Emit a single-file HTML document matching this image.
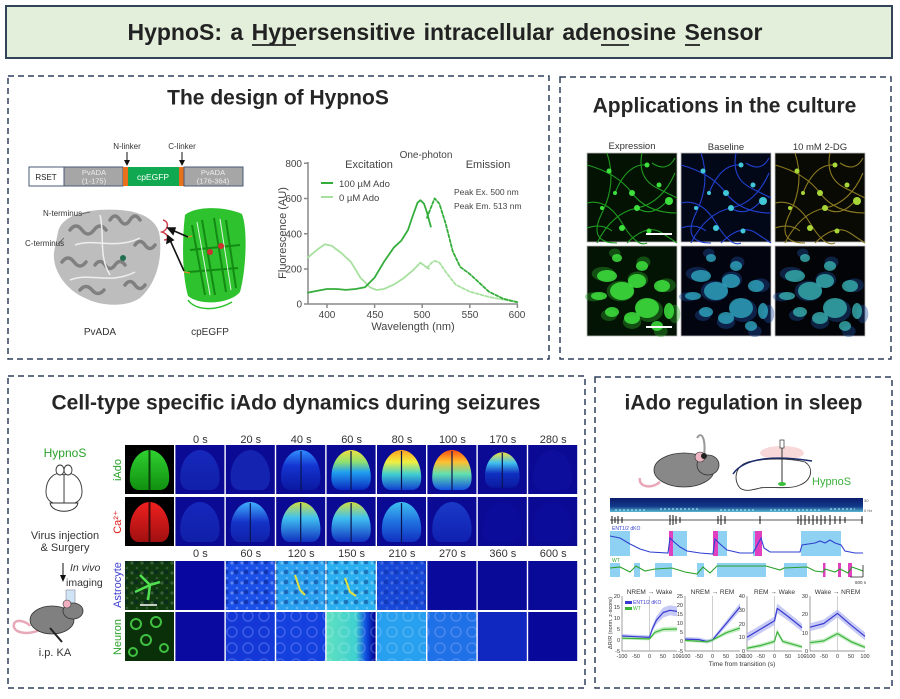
<!DOCTYPE html>
<html><head><meta charset="utf-8"><style>
html,body{margin:0;padding:0;background:#fff;}
svg{display:block;font-family:"Liberation Sans",Arial,sans-serif;}
</style></head><body>
<svg width="900" height="699" viewBox="0 0 900 699" xmlns="http://www.w3.org/2000/svg">
<defs>
<linearGradient id="b0" x1="0" y1="0" x2="0" y2="1"><stop offset="0" stop-color="#1628bc"/><stop offset="1" stop-color="#1020a8"/></linearGradient>
<linearGradient id="b40" x1="0" y1="0" x2="0" y2="1"><stop offset="0" stop-color="#3090ff"/><stop offset="0.4" stop-color="#1434d0"/><stop offset="1" stop-color="#0a18a0"/></linearGradient>
<linearGradient id="b60" x1="0" y1="0" x2="0" y2="1"><stop offset="0" stop-color="#f0e040"/><stop offset="0.3" stop-color="#90e070"/><stop offset="0.55" stop-color="#20a0f0"/><stop offset="1" stop-color="#0a28c0"/></linearGradient>
<linearGradient id="b80" x1="0" y1="0" x2="0" y2="1"><stop offset="0" stop-color="#ffa020"/><stop offset="0.3" stop-color="#f0f040"/><stop offset="0.6" stop-color="#40d0d0"/><stop offset="1" stop-color="#1040d0"/></linearGradient>
<linearGradient id="b100" x1="0" y1="0" x2="0" y2="1"><stop offset="0" stop-color="#ff5010"/><stop offset="0.3" stop-color="#ffc030"/><stop offset="0.6" stop-color="#60e0b0"/><stop offset="1" stop-color="#1450e0"/></linearGradient>
<linearGradient id="b170" x1="0" y1="0" x2="0" y2="1"><stop offset="0" stop-color="#f0e040"/><stop offset="0.3" stop-color="#40c0f0"/><stop offset="0.6" stop-color="#1030c0"/><stop offset="1" stop-color="#0a1aa0"/></linearGradient>
<linearGradient id="c20" x1="0" y1="0" x2="0" y2="1"><stop offset="0" stop-color="#40b0ff"/><stop offset="0.5" stop-color="#1434c8"/><stop offset="1" stop-color="#1020a8"/></linearGradient>
<linearGradient id="c40" x1="0" y1="0" x2="0" y2="1"><stop offset="0" stop-color="#d0e040"/><stop offset="0.4" stop-color="#40c0f0"/><stop offset="1" stop-color="#1030c0"/></linearGradient>
<linearGradient id="c80" x1="0" y1="0" x2="0" y2="1"><stop offset="0" stop-color="#40c0f0"/><stop offset="0.5" stop-color="#2070e0"/><stop offset="1" stop-color="#1030c0"/></linearGradient>
<linearGradient id="c100" x1="0" y1="0" x2="0" y2="1"><stop offset="0" stop-color="#1a3ac8"/><stop offset="1" stop-color="#1020b0"/></linearGradient>
<linearGradient id="gG" x1="0" y1="0" x2="0" y2="1"><stop offset="0" stop-color="#30d030"/><stop offset="1" stop-color="#109010"/></linearGradient>
<linearGradient id="gR" x1="0" y1="0" x2="0" y2="1"><stop offset="0" stop-color="#f02020"/><stop offset="1" stop-color="#a01010"/></linearGradient>
<linearGradient id="n150" x1="0" y1="0" x2="1" y2="0"><stop offset="0" stop-color="#60e0c0"/><stop offset="0.6" stop-color="#40d0d0"/><stop offset="0.8" stop-color="#1050e0"/><stop offset="1" stop-color="#000090"/></linearGradient>
<linearGradient id="spec" x1="0" y1="0" x2="0" y2="1"><stop offset="0" stop-color="#0c1c6c"/><stop offset="0.6" stop-color="#123a8a"/><stop offset="1" stop-color="#5ab8d0"/></linearGradient>
<pattern id="sp" width="10" height="10" patternUnits="userSpaceOnUse"><circle cx="2" cy="3" r="1.6" fill="#fff" fill-opacity="0.3"/><circle cx="7" cy="8" r="1.3" fill="#fff" fill-opacity="0.25"/><circle cx="6" cy="2" r="2.3" fill="#000050" fill-opacity="0.35"/></pattern>
<pattern id="ring" width="16" height="16" patternUnits="userSpaceOnUse"><circle cx="8" cy="8" r="5" fill="none" stroke="#fff" stroke-opacity="0.18" stroke-width="1.5"/></pattern>
<path id="brain" d="M24.5,5 C34,5 43,15 44,29 C45,39 42,44 36,45 L13,45 C7,44 4,39 5,29 C6,15 15,5 24.5,5 Z"/>
<g id="netL" fill="none" stroke="currentColor" stroke-width="1.1">
<path d="M0,12 Q30,20 45,40 T90,60"/><path d="M10,90 Q25,60 50,55 T88,20"/><path d="M20,0 Q30,30 15,60 T30,90"/><path d="M55,0 Q50,25 70,35 T90,45"/><path d="M0,50 Q20,45 35,70 T60,90"/><path d="M40,90 Q60,70 75,80 T90,90"/><path d="M65,10 Q80,20 88,5"/><path d="M0,75 Q15,70 25,78"/><path d="M28,40 Q40,10 60,12"/><path d="M50,55 Q65,65 80,48"/>
</g>
<g id="netC" fill="currentColor">
<circle cx="22" cy="18" r="2.5"/><circle cx="45" cy="40" r="3"/><circle cx="72" cy="32" r="2.5"/><circle cx="15" cy="55" r="2"/><circle cx="50" cy="55" r="3"/><circle cx="82" cy="48" r="4"/><circle cx="35" cy="75" r="3"/><circle cx="62" cy="78" r="2.5"/><circle cx="28" cy="40" r="2"/><circle cx="60" cy="12" r="2.5"/>
</g>
<g id="ast">
<ellipse cx="20" cy="30" rx="10" ry="6"/><ellipse cx="35" cy="45" rx="12" ry="9"/><ellipse cx="50" cy="35" rx="9" ry="7"/><ellipse cx="60" cy="62" rx="12" ry="10"/><ellipse cx="45" cy="72" rx="8" ry="6"/><ellipse cx="25" cy="66" rx="7" ry="5"/><ellipse cx="75" cy="40" rx="8" ry="6"/><ellipse cx="70" cy="80" rx="6" ry="5"/><ellipse cx="12" cy="50" rx="8" ry="4"/><ellipse cx="55" cy="20" rx="6" ry="5"/><ellipse cx="82" cy="65" rx="5" ry="8"/><ellipse cx="30" cy="12" rx="5" ry="4"/>
</g>
</defs>

<!-- Title -->
<rect x="6" y="6" width="886" height="52" fill="#e3efda" stroke="#33435a" stroke-width="2"/>
<text x="445" y="40" text-anchor="middle" font-size="23" font-weight="bold" fill="#222" word-spacing="2">HypnoS: a Hypersensitive intracellular adenosine Sensor</text>
<line x1="252" y1="45" x2="296" y2="45" stroke="#222" stroke-width="1.8"/>
<line x1="601" y1="45" x2="629" y2="45" stroke="#222" stroke-width="1.8"/>
<line x1="685" y1="45" x2="700" y2="45" stroke="#222" stroke-width="1.8"/>

<!-- Panels -->
<g fill="none" stroke="#2e3e5c" stroke-width="1.5" stroke-dasharray="6 4">
<rect x="8" y="76" width="541" height="283"/>
<rect x="560" y="77" width="331" height="282"/>
<rect x="8" y="376" width="577" height="312"/>
<rect x="595" y="377" width="297" height="311"/>
</g>

<g font-weight="bold" font-size="21" fill="#262626" text-anchor="middle">
<text x="278" y="104.5">The design of HypnoS</text>
<text x="724.5" y="112.5">Applications in the culture</text>
<text x="296" y="409.5">Cell-type specific iAdo dynamics during seizures</text>
<text x="743.5" y="409.5">iAdo regulation in sleep</text>
</g>

<!-- Design: gene bar -->
<g font-size="8" text-anchor="middle">
<text x="127" y="149" fill="#333">N-linker</text>
<text x="182" y="149" fill="#333">C-linker</text>
<line x1="127" y1="152" x2="127" y2="163" stroke="#111" stroke-width="1"/><path d="M124,160 L127,166 L130,160 Z" fill="#111"/>
<line x1="182" y1="152" x2="182" y2="163" stroke="#111" stroke-width="1"/><path d="M179,160 L182,166 L185,160 Z" fill="#111"/>
<rect x="29" y="167" width="35" height="19" fill="#fff" stroke="#4a5a7a" stroke-width="1"/>
<rect x="64" y="167" width="59" height="19" fill="#a6a6a6" stroke="#4a5a7a" stroke-width="1"/>
<rect x="123" y="167" width="5" height="19" fill="#e8701a"/>
<rect x="128" y="167" width="51" height="19" fill="#10a850"/>
<rect x="179" y="167" width="5" height="19" fill="#e8701a"/>
<rect x="184" y="167" width="59" height="19" fill="#a6a6a6" stroke="#4a5a7a" stroke-width="1"/>
<text x="46" y="180" fill="#222">RSET</text>
<text x="94" y="175" fill="#ececec" font-size="7.5">PvADA</text><text x="94" y="183.5" fill="#ececec" font-size="7.5">(1-175)</text>
<text x="153" y="180" fill="#fff" font-size="8.5">cpEGFP</text>
<text x="213" y="175" fill="#ececec" font-size="7.5">PvADA</text><text x="213" y="183.5" fill="#ececec" font-size="7.5">(176-364)</text>
</g>

<!-- PvADA structure -->
<g>
<path d="M58,232 C62,214 90,208 120,210 C145,212 160,222 160,240 C162,262 155,285 140,298 C125,308 100,306 85,298 C66,290 52,270 54,252 Z" fill="#bdbdbd"/>
<g fill="none" stroke="#808080" stroke-width="3.5" stroke-linecap="round">
<path d="M70,230 q6,-8 12,0 q6,8 12,0 q6,-8 12,0"/>
<path d="M110,220 q5,-8 10,0 q5,8 10,0 q5,-8 10,0"/>
<path d="M62,262 q6,-8 12,0 q6,8 12,0"/>
<path d="M95,265 q5,-7 10,0 q5,7 10,0 q5,-7 10,0"/>
<path d="M80,290 q6,-7 12,0 q6,7 12,0"/>
<path d="M125,285 q5,-7 10,0 q5,7 10,0"/>
<path d="M135,245 q5,-7 10,0 q5,7 10,0"/>
</g>
<g fill="none" stroke="#eeeeee" stroke-width="1.5">
<path d="M75,245 C95,238 115,250 140,238"/><path d="M70,280 C90,272 110,285 135,272"/><path d="M100,215 C105,235 98,255 110,275"/>
</g>
<circle cx="123" cy="258" r="3" fill="#207050"/>
<path d="M163,220 C170,222 168,230 162,232 C168,234 170,240 164,240" fill="none" stroke="#d04050" stroke-width="1.5"/>
</g>
<!-- cpEGFP structure -->
<g>
<path d="M185,215 C195,206 225,206 242,214 C248,230 246,270 240,292 C230,304 200,306 188,296 C182,275 182,240 185,215 Z" fill="#2ec22e"/>
<g fill="none" stroke="#138a13" stroke-width="2">
<path d="M192,225 L205,295"/><path d="M202,220 L215,295"/><path d="M214,218 L226,292"/><path d="M226,220 L236,288"/><path d="M190,250 L240,245"/><path d="M188,272 L238,268"/>
</g>
<g fill="none" stroke="#dff5df" stroke-width="1">
<path d="M197,222 L210,295"/><path d="M220,219 L231,290"/>
</g>
<circle cx="210" cy="252" r="3" fill="#d03030"/><circle cx="221" cy="246" r="3" fill="#d03030"/>
<path d="M188,300 C195,310 215,312 232,302" fill="none" stroke="#2ec22e" stroke-width="1.5"/>
</g>
<path d="M188,237 L192,236 M184,272 L190,273" stroke="#e08a30" stroke-width="1.2"/>
<g stroke="#111" stroke-width="1.6" fill="#111">
<line x1="188" y1="237" x2="172" y2="230"/><path d="M168,228 L175,228 L173,234 Z"/>
<line x1="184" y1="271" x2="170" y2="240"/><path d="M168,236 L173,240 L167,243 Z"/>
</g>
<g font-size="8" fill="#333">
<text x="43" y="216">N-terminus</text>
<text x="25" y="246">C-terminus</text>
<line x1="81" y1="214" x2="90" y2="212" stroke="#555" stroke-width="0.8"/>
<line x1="58" y1="244" x2="64" y2="238" stroke="#555" stroke-width="0.8"/>
</g>
<g font-size="10" fill="#333" text-anchor="middle">
<text x="100" y="335">PvADA</text><text x="210" y="335">cpEGFP</text>
</g>

<!-- Spectra chart -->
<g stroke="#8a8a8a" stroke-width="1.5" fill="none">
<line x1="308" y1="162" x2="308" y2="304"/><line x1="308" y1="304" x2="518" y2="304"/>
<path d="M304,163.3 H308 M304,198.5 H308 M304,233.8 H308 M304,269 H308 M304,304 H308"/>
<path d="M327,304 V308 M374.6,304 V308 M422.2,304 V308 M469.8,304 V308 M517.4,304 V308"/>
</g>
<g font-size="10" fill="#444">
<g text-anchor="end"><text x="302" y="167">800</text><text x="302" y="202">600</text><text x="302" y="237.5">400</text><text x="302" y="272.5">200</text><text x="302" y="307.5">0</text></g>
<g text-anchor="middle"><text x="327" y="318">400</text><text x="375" y="318">450</text><text x="422" y="318">500</text><text x="470" y="318">550</text><text x="517" y="318">600</text></g>
<text x="413" y="330" text-anchor="middle" font-size="11">Wavelength (nm)</text>
<text transform="translate(286,233) rotate(-90)" text-anchor="middle" font-size="11">Fluorescence (AU)</text>
<text x="426" y="158" text-anchor="middle">One-photon</text>
<text x="369" y="168" text-anchor="middle" font-size="11">Excitation</text>
<text x="488" y="168" text-anchor="middle" font-size="11">Emission</text>
<text x="339" y="187" font-size="9.5">100 µM Ado</text>
<text x="339" y="201" font-size="9.5">0     µM Ado</text>
<text x="454" y="195" font-size="8.5">Peak Ex. 500 nm</text>
<text x="454" y="209" font-size="8.5">Peak Em. 513 nm</text>
</g>
<line x1="321" y1="183" x2="333" y2="183" stroke="#34ad3c" stroke-width="2"/>
<line x1="321" y1="197" x2="333" y2="197" stroke="#a8e0a0" stroke-width="2"/>
<g fill="none" stroke-width="1.8" stroke-linejoin="round" stroke-linecap="round">
<polyline stroke="#a8e0a0" points="308,257.4 317.5,249.4 325,244.2 331.8,245.9 341.3,253 350.8,261.8 360.4,277.6 369.9,287.3 376.5,290 384,289 393.7,284.6 403.2,278.5 412.7,270.6 420.4,262.6 425.1,266.2 428.9,268.8"/>
<polyline stroke="#a8e0a0" stroke-dasharray="3 2" points="427,267.9 431.8,262.6 434.6,260.9 439.4,262.6 446,272.3 455.6,284.6 469.8,291.7 488.9,297 517.4,302.2"/>
<polyline stroke="#34ad3c" points="308,292.6 317.5,290.8 327,289 336.6,289 346,289.9 355.6,289 365,287.3 374.6,277.6 384,261.8 393.7,247.7 401.3,240.6 408,230 412.7,216 417.5,202.8 420.4,200.2 424,203.7 427,212.5 430.8,226.6"/>
<polyline stroke="#34ad3c" stroke-dasharray="3 2" points="427,217.8 431.8,205.4 434.6,198.4 439.4,203.7 446,224.8 452.7,251.2 460.3,267 469.8,274 477.4,281 488.9,291.7 503.2,298.7 517.4,302.2"/>
</g>

<!-- Culture images -->
<g font-size="9.5" fill="#333" text-anchor="middle">
<text x="632" y="149">Expression</text><text x="726" y="150">Baseline</text><text x="820" y="150">10 mM 2-DG</text>
</g>
<g stroke="#bbb" stroke-width="0.8">
<rect x="587" y="153" width="90" height="89" fill="#031203"/>
<rect x="681" y="153" width="90" height="89" fill="#030818"/>
<rect x="775" y="153" width="90" height="89" fill="#0a0a04"/>
<rect x="587" y="246" width="90" height="90" fill="#041404"/>
<rect x="681" y="246" width="90" height="90" fill="#020410"/>
<rect x="775" y="246" width="90" height="90" fill="#020408"/>
</g>
<use href="#netL" transform="translate(587,153)" style="color:#1f9a1f"/>
<use href="#netC" transform="translate(587,153)" style="color:#3ee03e"/>
<use href="#netL" transform="translate(681,153)" style="color:#2040d0"/>
<use href="#netC" transform="translate(681,153)" style="color:#40c8d8"/>
<use href="#netL" transform="translate(775,153)" style="color:#8a7a20"/>
<use href="#netC" transform="translate(775,153)" style="color:#a8d838"/>
<line x1="646" y1="234" x2="672" y2="234" stroke="#fff" stroke-width="2"/>
<g transform="translate(587,246)"><use href="#ast" fill="#2aa82a" transform="translate(45,45) scale(1.15) translate(-45,-45)" fill-opacity="0.4"/><use href="#ast" fill="#3ee03e" fill-opacity="0.85"/></g>
<g transform="translate(681,246)"><use href="#ast" fill="#2050a0" fill-opacity="0.4" transform="translate(45,45) scale(1.15) translate(-45,-45)"/><use href="#ast" fill="#30a8c0" fill-opacity="0.8"/></g>
<g transform="translate(775,246)"><use href="#ast" fill="#2050a0" fill-opacity="0.4" transform="translate(45,45) scale(1.15) translate(-45,-45)"/><use href="#ast" fill="#38b0b0" fill-opacity="0.8"/></g>
<line x1="646" y1="327" x2="672" y2="327" stroke="#fff" stroke-width="2"/>

<!-- Seizure panel left -->
<text x="65" y="457" text-anchor="middle" font-size="12" fill="#2aa02a">HypnoS</text>
<g fill="#fff" stroke="#333" stroke-width="0.9">
<path d="M64,475 C72,470 82,478 82,492 C82,500 76,505 66,504 L64,504 Z"/>
<path d="M64,475 C56,470 46,478 46,492 C46,500 52,505 62,504 L64,504 Z"/>
<ellipse cx="60" cy="470" rx="4" ry="5"/><ellipse cx="68" cy="470" rx="4" ry="5"/>
<path d="M50,503 C52,514 76,514 78,503 Z"/>
</g>
<g font-size="11" fill="#333" text-anchor="middle">
<text x="65" y="539">Virus injection</text><text x="65" y="551">&amp; Surgery</text>
<text x="55" y="656">i.p. KA</text>
</g>
<text x="70" y="571" font-size="10.5" font-style="italic" fill="#333">In vivo</text>
<text x="66" y="586" font-size="10.5" fill="#333">imaging</text>
<line x1="63" y1="563" x2="63" y2="577" stroke="#111" stroke-width="1"/><path d="M60,575 L63,582 L66,575 Z" fill="#111"/>
<rect x="66" y="590" width="9" height="14" fill="#cfe4f4" stroke="#889" stroke-width="0.6"/>
<path d="M40,630 C25,636 12,632 14,624 C16,618 28,622 30,626" fill="none" stroke="#e8a8b8" stroke-width="2.5"/>
<ellipse cx="52" cy="620" rx="22" ry="14" fill="#808080" stroke="#333" stroke-width="0.8"/>
<ellipse cx="73" cy="611" rx="10" ry="8" fill="#808080" stroke="#333" stroke-width="0.8"/>
<ellipse cx="67" cy="604" rx="4" ry="4" fill="#f0b0c0" stroke="#333" stroke-width="0.6"/>
<line x1="50" y1="628" x2="62" y2="642" stroke="#222" stroke-width="2"/>

<!-- Row labels -->
<g font-size="11" text-anchor="middle">
<text transform="translate(121,470) rotate(-90)" fill="#2aa02a">iAdo</text>
<text transform="translate(121,522) rotate(-90)" fill="#e02020">Ca²⁺</text>
<text transform="translate(121,585) rotate(-90)" fill="#4040d0">Astrocyte</text>
<text transform="translate(121,637) rotate(-90)" fill="#2aa02a">Neuron</text>
</g>
<!-- time labels -->
<g font-size="11" fill="#333" text-anchor="middle">
<text x="200.4" y="443">0 s</text><text x="250.8" y="443">20 s</text><text x="301.2" y="443">40 s</text><text x="351.6" y="443">60 s</text><text x="402" y="443">80 s</text><text x="452.4" y="443">100 s</text><text x="502.8" y="443">170 s</text><text x="553.2" y="443">280 s</text>
<text x="200.4" y="557">0 s</text><text x="250.8" y="557">60 s</text><text x="301.2" y="557">120 s</text><text x="351.6" y="557">150 s</text><text x="402" y="557">210 s</text><text x="452.4" y="557">270 s</text><text x="502.8" y="557">360 s</text><text x="553.2" y="557">600 s</text>
</g>

<!-- Row 1 -->
<rect x="125" y="445" width="49" height="49" fill="#000"/>
<use href="#brain" transform="translate(125,445)" fill="url(#gG)"/>
<line x1="149.5" y1="450" x2="149.5" y2="490" stroke="#0a400a" stroke-width="2"/>
<g>
<rect x="175.4" y="445" width="49" height="49" fill="#0a0a94"/>
<rect x="225.8" y="445" width="49" height="49" fill="#0a0a94"/>
<rect x="276.2" y="445" width="49" height="49" fill="#0a0a94"/>
<rect x="326.6" y="445" width="49" height="49" fill="#0a0a94"/>
<rect x="377" y="445" width="49" height="49" fill="#0a0a94"/>
<rect x="427.4" y="445" width="49" height="49" fill="#0a0a94"/>
<rect x="477.8" y="445" width="49" height="49" fill="#0a0a94"/>
<rect x="528.2" y="445" width="49" height="49" fill="#0a0a94"/>
</g>
<use href="#brain" transform="translate(175.4,445)" fill="url(#b0)"/>
<use href="#brain" transform="translate(225.8,445)" fill="#1424b0"/>
<use href="#brain" transform="translate(276.2,445)" fill="url(#b40)"/>
<use href="#brain" transform="translate(326.6,445)" fill="url(#b60)"/>
<use href="#brain" transform="translate(377,445)" fill="url(#b80)"/>
<use href="#brain" transform="translate(427.4,445)" fill="url(#b100)"/>
<use href="#brain" transform="translate(477.8,445) translate(24.5,25) scale(0.88) translate(-24.5,-25)" fill="url(#b170)"/>
<use href="#brain" transform="translate(528.2,445)" fill="#0e0e9c"/>
<!-- Row 2 -->
<rect x="125" y="497" width="49" height="49" fill="#000"/>
<use href="#brain" transform="translate(125,497)" fill="url(#gR)"/>
<line x1="149.5" y1="502" x2="149.5" y2="542" stroke="#400a0a" stroke-width="2"/>
<g>
<rect x="175.4" y="497" width="49" height="49" fill="#0a0a94"/>
<rect x="225.8" y="497" width="49" height="49" fill="#0a0a94"/>
<rect x="276.2" y="497" width="49" height="49" fill="#0a0a94"/>
<rect x="326.6" y="497" width="49" height="49" fill="#0a0a94"/>
<rect x="377" y="497" width="49" height="49" fill="#0a0a94"/>
<rect x="427.4" y="497" width="49" height="49" fill="#0a0a94"/>
<rect x="477.8" y="497" width="49" height="49" fill="#0a0a94"/>
<rect x="528.2" y="497" width="49" height="49" fill="#0a0a94"/>
</g>
<use href="#brain" transform="translate(175.4,497)" fill="url(#b0)"/>
<use href="#brain" transform="translate(225.8,497)" fill="url(#c20)"/>
<use href="#brain" transform="translate(276.2,497)" fill="url(#c40)"/>
<use href="#brain" transform="translate(326.6,497)" fill="url(#c40)"/>
<use href="#brain" transform="translate(377,497)" fill="url(#c80)"/>
<use href="#brain" transform="translate(427.4,497)" fill="url(#c100)"/>
<use href="#brain" transform="translate(477.8,497)" fill="#0c0c9a"/>
<use href="#brain" transform="translate(528.2,497)" fill="#0c0c9a"/>
<g stroke="#0a1450" stroke-width="1.2">
<line x1="301" y1="451" x2="301" y2="490"/><line x1="351" y1="451" x2="351" y2="490"/><line x1="401.5" y1="451" x2="401.5" y2="490"/><line x1="452" y1="451" x2="452" y2="490"/><line x1="502.3" y1="453" x2="502.3" y2="488"/>
<line x1="250.3" y1="503" x2="250.3" y2="542"/><line x1="300.7" y1="503" x2="300.7" y2="542"/><line x1="351.1" y1="503" x2="351.1" y2="542"/><line x1="401.5" y1="503" x2="401.5" y2="542"/>
</g>
<!-- Row 3 astrocyte -->
<rect x="125" y="561" width="49" height="49" fill="#0e3a0e"/>
<rect x="125" y="561" width="49" height="49" fill="url(#sp)" opacity="0.6"/>
<path d="M140,575 L150,585 L160,582 M150,585 L148,600 M150,585 L135,592" stroke="#50e050" stroke-width="2.5" fill="none"/>
<line x1="140" y1="605" x2="157" y2="605" stroke="#fff" stroke-width="1.5"/>
<rect x="175.4" y="561" width="49" height="49" fill="#0808a0"/>
<rect x="225.8" y="561" width="49" height="49" fill="#1a50e8"/>
<rect x="276.2" y="561" width="49" height="49" fill="#2aa0f0"/>
<rect x="326.6" y="561" width="49" height="49" fill="#2ab0f0"/>
<rect x="377" y="561" width="49" height="49" fill="#1848d8"/>
<rect x="427.4" y="561" width="49" height="49" fill="#0a0a9c"/>
<rect x="477.8" y="561" width="49" height="49" fill="#0a0a98"/>
<rect x="528.2" y="561" width="49" height="49" fill="#0a0a98"/>
<rect x="225.8" y="561" width="150" height="49" fill="url(#sp)"/>
<rect x="377" y="561" width="49" height="49" fill="url(#sp)" opacity="0.6"/>
<path d="M295,575 L300,590 L305,595 M345,578 L350,592 L356,596" stroke="#e0e040" stroke-width="2" fill="none"/>
<!-- Row 4 neuron -->
<rect x="125" y="612" width="49" height="49" fill="#0a300a"/>
<g fill="none" stroke="#40c040" stroke-width="2"><circle cx="136" cy="624" r="5"/><circle cx="156" cy="622" r="5"/><circle cx="146" cy="640" r="5"/><circle cx="164" cy="648" r="4"/><circle cx="133" cy="652" r="4"/></g>
<rect x="175.4" y="612" width="49" height="49" fill="#0a0aa0"/>
<rect x="225.8" y="612" width="49" height="49" fill="#1438d8"/>
<rect x="276.2" y="612" width="49" height="49" fill="#1440e0"/>
<rect x="326.6" y="612" width="49" height="49" fill="url(#n150)"/>
<rect x="377" y="612" width="49" height="49" fill="#28a0f0"/>
<rect x="427.4" y="612" width="49" height="49" fill="#2070e8"/>
<rect x="477.8" y="612" width="49" height="49" fill="#1028c0"/>
<rect x="528.2" y="612" width="49" height="49" fill="#08089a"/>
<rect x="225.8" y="612" width="251" height="49" fill="url(#ring)"/>

<!-- Sleep panel -->
<ellipse cx="782" cy="453" rx="22" ry="7" fill="#f8d8d8"/>
<path d="M660,482 C650,490 638,486 640,478" fill="none" stroke="#e8a8b8" stroke-width="2.5"/>
<ellipse cx="684" cy="470" rx="30" ry="17" fill="#888" stroke="#333" stroke-width="0.8"/>
<ellipse cx="708" cy="465" rx="11" ry="10" fill="#888" stroke="#333" stroke-width="0.8"/>
<ellipse cx="700" cy="457" rx="5" ry="5" fill="#f0b8c4" stroke="#333" stroke-width="0.6"/>
<path d="M704,456 C706,440 702,430 697,438" fill="none" stroke="#999" stroke-width="2"/>
<circle cx="704" cy="456" r="3" fill="#222"/>
<path d="M740,488 C733,480 735,466 748,462 C765,458 790,458 805,462 C814,468 812,480 800,485 C790,490 770,486 760,488 C752,490 745,492 740,488 Z" fill="#fff" stroke="#333" stroke-width="0.9"/>
<path d="M733,474 C745,456 780,456 812,461" fill="none" stroke="#1a2a6a" stroke-width="1.5"/>
<line x1="782" y1="441" x2="782" y2="483" stroke="#333" stroke-width="1"/>
<rect x="780" y="440" width="4" height="8" fill="#fff" stroke="#333" stroke-width="0.7"/>
<ellipse cx="782" cy="484" rx="4" ry="2" fill="#3cc03c"/>
<text x="812" y="485" font-size="11" fill="#3cb03c">HypnoS</text>

<rect x="610" y="498" width="253" height="14" fill="url(#spec)"/>
<path d="M615,510 h30 M660,509 h40 M720,510 h35 M770,510 h50 M830,509 h25" stroke="#9ae0f0" stroke-width="1.2" stroke-dasharray="2 2"/>
<text x="864" y="502" font-size="4" fill="#555">30</text><text x="864" y="512" font-size="4" fill="#555">0 Hz</text>
<line x1="610" y1="520" x2="863" y2="520" stroke="#222" stroke-width="0.8"/>
<path d="M612,516v8M615,517v6M618,516v8M622,517v6M670,515v10M673,515v10M676,516v8M680,517v6M718,516v8M721,515v10M725,516v8M760,516v8M798,516v8M801,515v10M805,515v10M809,516v8M813,515v10M817,516v8M821,515v10M825,516v8M830,515v10M835,516v8M840,516v8M845,517v6M862,516v8" stroke="#111" stroke-width="1"/>

<g fill="#8ed1f2">
<rect x="610" y="531" width="20" height="25"/><rect x="669" y="531" width="18" height="25"/><rect x="713" y="531" width="14" height="25"/><rect x="753" y="531" width="9" height="25"/><rect x="801" y="531" width="40" height="25"/>
<rect x="610" y="563" width="10" height="14"/><rect x="634" y="563" width="6" height="14"/><rect x="655" y="563" width="17" height="14"/><rect x="697" y="563" width="7" height="14"/><rect x="717" y="563" width="49" height="14"/><rect x="784" y="563" width="23" height="14"/>
</g>
<g fill="#e040c0">
<rect x="669" y="531" width="4" height="25"/><rect x="713" y="531" width="5" height="25"/><rect x="755" y="531" width="7" height="25"/>
<rect x="823" y="563" width="2.5" height="14"/><rect x="838" y="563" width="3" height="14"/><rect x="848" y="563" width="4" height="14"/>
</g>
<polyline fill="none" stroke="#3040d0" stroke-width="1.1" points="610,536 615,537 620,538 630,544 640,549 650,552 668,553 670,538 673,541 680,547 687,551 700,553 713,554 715,539 720,544 727,550 740,553 753,553 761,538 764,548 770,552 800,552 802,545 815,543 820,541 825,543 830,540 835,543 841,545 845,551 855,553 863,553"/>
<polyline fill="none" stroke="#2aa02a" stroke-width="1.1" points="610,568 620,567 630,572 636,566 645,571 655,569 672,568 685,572 697,574 703,567 710,573 717,566 766,566 780,570 784,568 807,567 815,571 823,572 825,569 835,572 840,569 848,573 852,567 863,571"/>
<text x="612" y="530" font-size="5" fill="#3040d0">ENT1/2 dKO</text>
<text x="612" y="562" font-size="5" fill="#2aa02a">WT</text>
<path d="M863,565 V577 M850,577 H863" stroke="#222" stroke-width="0.8" fill="none"/>
<text x="855" y="584" font-size="4.5" fill="#333">600 s</text>

<!-- mini plots -->
<g stroke="#777" stroke-width="0.7" fill="none">
<path d="M622,596 V651 H677"/><path d="M685,596 V651 H740"/><path d="M747,596 V651 H802"/><path d="M810,596 V651 H865"/>
<path d="M649.5,596 V651 M712.5,596 V651 M774.5,596 V651 M837.5,596 V651" stroke="#bbb"/>
</g>
<g font-size="6.5" fill="#333" text-anchor="middle">
<text x="649.5" y="594">NREM → Wake</text><text x="712.5" y="594">NREM → REM</text><text x="774.5" y="594">REM → Wake</text><text x="837.5" y="594">Wake → NREM</text>
<text x="742" y="666">Time from transition (s)</text>
</g>
<g font-size="5.5" fill="#333" text-anchor="middle">
<text x="622" y="658">-100</text><text x="636" y="658">-50</text><text x="649.5" y="658">0</text><text x="663" y="658">50</text><text x="677" y="658">100</text>
<text x="685" y="658">-100</text><text x="699" y="658">-50</text><text x="712.5" y="658">0</text><text x="726" y="658">50</text><text x="740" y="658">100</text>
<text x="747" y="658">-100</text><text x="761" y="658">-50</text><text x="774.5" y="658">0</text><text x="788" y="658">50</text><text x="802" y="658">100</text>
<text x="810" y="658">-100</text><text x="824" y="658">-50</text><text x="837.5" y="658">0</text><text x="851" y="658">50</text><text x="865" y="658">100</text>
</g>
<g font-size="5.5" fill="#333" text-anchor="end">
<text x="620" y="598">20</text><text x="620" y="609">15</text><text x="620" y="620">10</text><text x="620" y="631">5</text><text x="620" y="642">0</text><text x="620" y="653">-5</text>
<text x="683" y="598">25</text><text x="683" y="607">20</text><text x="683" y="616">15</text><text x="683" y="625">10</text><text x="683" y="634">5</text><text x="683" y="643">0</text><text x="683" y="653">-5</text>
<text x="745" y="598">40</text><text x="745" y="612">30</text><text x="745" y="626">20</text><text x="745" y="639">10</text><text x="745" y="653">0</text>
<text x="808" y="598">30</text><text x="808" y="616">20</text><text x="808" y="635">10</text><text x="808" y="653">0</text>
</g>
<text transform="translate(612,623) rotate(-90)" font-size="5.5" fill="#333" text-anchor="middle">ΔR/R (norm. z-score)</text>
<!-- bands -->
<g fill="#b8bdf2" fill-opacity="0.8">
<polygon points="622,634 635.75,634.7 649.5,635.4 652.25,626 656.4,616.2 663.25,607.5 670.1,605.3 677,606.4 677,616.4 670.1,615.3 663.25,617.5 656.4,624.2 652.25,632 649.5,639.4 635.75,638.7 622,638"/>
<polygon points="685,637 698.75,637.5 707,639.5 712.5,638 726.25,620.5 740,603 740,611 726.25,626.5 712.5,642 707,643.5 698.75,641.7 685,641.2"/>
<polygon points="747,633 760.75,625 774.5,616.5 777.25,603.5 788.25,612.5 802,623.6 802,631.6 788.25,620.7 777.25,613.3 774.5,625 760.75,633 747,641.5"/>
<polygon points="810,623.2 823.75,619.5 837.5,609.4 851.25,621.3 865,632.3 865,640.3 851.25,629.3 837.5,617.4 823.75,627.5 810,631.2"/>
</g>
<g fill="#b8e8b8" fill-opacity="0.8">
<polygon points="622,636.7 649.5,637.4 655,630 663.25,627 677,626.5 677,631.5 663.25,631.8 655,634.6 649.5,640.4 622,639.7"/>
<polygon points="685,638.9 707,640.3 712.5,638.5 726.25,630.5 740,625.6 740,630.6 726.25,634.9 712.5,641.5 707,643.3 685,641.9"/>
<polygon points="747,646.5 760.75,643.5 774.5,639.2 777.25,629 782.75,639.2 802,645 802,648.8 782.75,643.6 777.25,634.5 774.5,643.6 760.75,647.5 747,650"/>
<polygon points="810,640.5 823.75,638.7 837.5,631.2 851.25,639.6 865,645.3 865,649.3 851.25,644 837.5,636 823.75,643.1 810,644.9"/>
</g>
<g fill="none" stroke-width="1.2" stroke-linejoin="round">
<polyline stroke="#3a3ad0" points="622,636 635.75,636.7 649.5,637.4 652.25,629 656.4,620.2 663.25,612.5 670.1,610.3 677,611.4"/>
<polyline stroke="#3a3ad0" points="685,639.1 698.75,639.6 707,641.5 712.5,640 726.25,623.5 740,607"/>
<polyline stroke="#3a3ad0" points="747,637.25 760.75,629 774.5,620.75 777.25,608.4 788.25,616.6 802,627.6"/>
<polyline stroke="#3a3ad0" points="810,627.2 823.75,623.5 837.5,613.4 851.25,625.3 865,636.3"/>
<polyline stroke="#3cb43c" points="622,638.2 649.5,638.9 655,632.3 663.25,629.4 677,629"/>
<polyline stroke="#3cb43c" points="685,640.4 707,641.8 712.5,640 726.25,632.7 740,628.1"/>
<polyline stroke="#3cb43c" points="747,648.25 760.75,645.5 774.5,641.4 777.25,631.75 782.75,641.4 802,646.9"/>
<polyline stroke="#3cb43c" points="810,642.7 823.75,640.9 837.5,633.6 851.25,641.8 865,647.3"/>
</g>
<rect x="625" y="601" width="7" height="3" fill="#3a3ad0"/><text x="633" y="604" font-size="5" fill="#3a3ad0">ENT1/2 dKO</text>
<rect x="625" y="607" width="7" height="3" fill="#3cb43c"/><text x="633" y="610" font-size="5" fill="#3cb43c">WT</text>
</svg>
</body></html>
